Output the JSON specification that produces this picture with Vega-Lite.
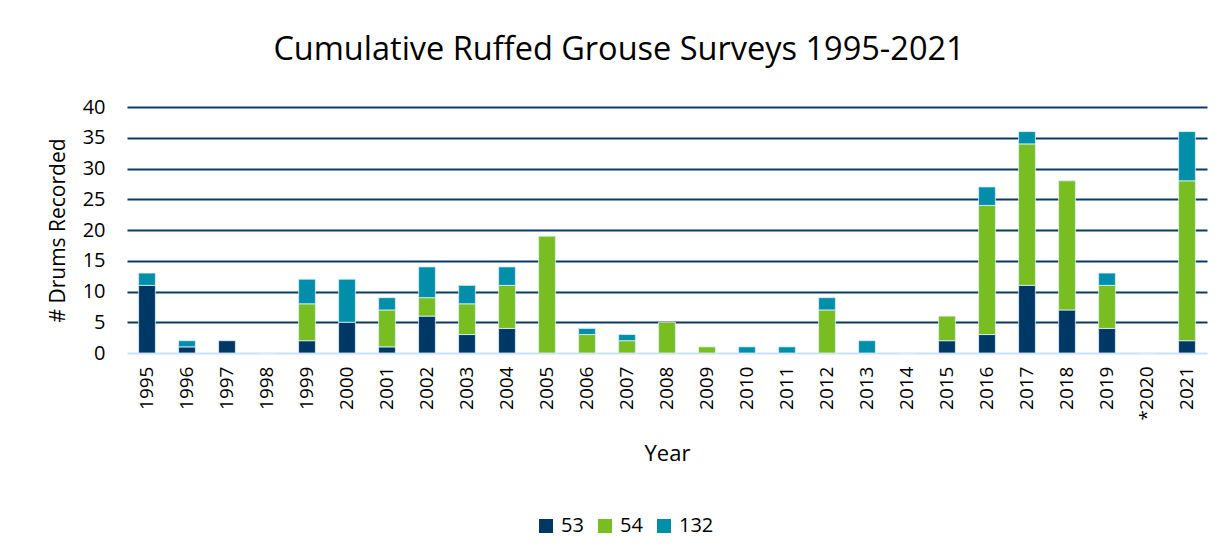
{
  "$schema": "https://vega.github.io/schema/vega-lite/v6.json",
  "autosize": {"type": "none"},
  "width": 1080,
  "height": 246,
  "padding": {"left": 127, "top": 107, "right": 15, "bottom": 206},
  "background": "#ffffff",
  "config": {
    "font": "Open Sans",
    "view": {"stroke": null}
  },
  "title": {
    "text": "Cumulative Ruffed Grouse Surveys 1995-2021",
    "font": "Open Sans",
    "fontSize": 32.5,
    "fontWeight": "normal",
    "color": "#000000",
    "anchor": "middle",
    "dx": -48,
    "offset": 31
  },
  "data": {
    "values": [
      {"year": "1995", "series": 53, "drums": 11}, {"year": "1995", "series": 132, "drums": 2},
      {"year": "1996", "series": 53, "drums": 1}, {"year": "1996", "series": 132, "drums": 1},
      {"year": "1997", "series": 53, "drums": 2},
      {"year": "1998", "series": 53, "drums": 0},
      {"year": "1999", "series": 53, "drums": 2}, {"year": "1999", "series": 54, "drums": 6}, {"year": "1999", "series": 132, "drums": 4},
      {"year": "2000", "series": 53, "drums": 5}, {"year": "2000", "series": 132, "drums": 7},
      {"year": "2001", "series": 53, "drums": 1}, {"year": "2001", "series": 54, "drums": 6}, {"year": "2001", "series": 132, "drums": 2},
      {"year": "2002", "series": 53, "drums": 6}, {"year": "2002", "series": 54, "drums": 3}, {"year": "2002", "series": 132, "drums": 5},
      {"year": "2003", "series": 53, "drums": 3}, {"year": "2003", "series": 54, "drums": 5}, {"year": "2003", "series": 132, "drums": 3},
      {"year": "2004", "series": 53, "drums": 4}, {"year": "2004", "series": 54, "drums": 7}, {"year": "2004", "series": 132, "drums": 3},
      {"year": "2005", "series": 54, "drums": 19},
      {"year": "2006", "series": 54, "drums": 3}, {"year": "2006", "series": 132, "drums": 1},
      {"year": "2007", "series": 54, "drums": 2}, {"year": "2007", "series": 132, "drums": 1},
      {"year": "2008", "series": 54, "drums": 5},
      {"year": "2009", "series": 54, "drums": 1},
      {"year": "2010", "series": 132, "drums": 1},
      {"year": "2011", "series": 132, "drums": 1},
      {"year": "2012", "series": 54, "drums": 7}, {"year": "2012", "series": 132, "drums": 2},
      {"year": "2013", "series": 132, "drums": 2},
      {"year": "2014", "series": 53, "drums": 0},
      {"year": "2015", "series": 53, "drums": 2}, {"year": "2015", "series": 54, "drums": 4},
      {"year": "2016", "series": 53, "drums": 3}, {"year": "2016", "series": 54, "drums": 21}, {"year": "2016", "series": 132, "drums": 3},
      {"year": "2017", "series": 53, "drums": 11}, {"year": "2017", "series": 54, "drums": 23}, {"year": "2017", "series": 132, "drums": 2},
      {"year": "2018", "series": 53, "drums": 7}, {"year": "2018", "series": 54, "drums": 21},
      {"year": "2019", "series": 53, "drums": 4}, {"year": "2019", "series": 54, "drums": 7}, {"year": "2019", "series": 132, "drums": 2},
      {"year": "*2020", "series": 53, "drums": 0},
      {"year": "2021", "series": 53, "drums": 2}, {"year": "2021", "series": 54, "drums": 26}, {"year": "2021", "series": 132, "drums": 8}
    ]
  },
  "mark": {"type": "bar", "stroke": "#dff0fa", "strokeWidth": 0.8},
  "encoding": {
    "x": {
      "field": "year",
      "type": "nominal",
      "sort": null,
      "title": "Year",
      "scale": {"paddingInner": 0.58, "paddingOuter": 0.29},
      "axis": {
        "labelAngle": -90,
        "labelFontSize": 19,
        "labelColor": "#000000",
        "labelPadding": 13,
        "ticks": false,
        "domain": false,
        "titleFontSize": 22,
        "titleFontWeight": "normal",
        "titleColor": "#000000",
        "titlePadding": 24
      }
    },
    "y": {
      "field": "drums",
      "type": "quantitative",
      "aggregate": "sum",
      "stack": "zero",
      "title": "# Drums Recorded",
      "scale": {"domain": [0, 40]},
      "axis": {
        "values": [0, 5, 10, 15, 20, 25, 30, 35, 40],
        "labelFontSize": 20,
        "labelColor": "#000000",
        "labelPadding": 22,
        "ticks": false,
        "domain": false,
        "gridColor": {"condition": {"test": "datum.value === 0", "value": "#c9e2f5"}, "value": "#0c3c63"},
        "gridWidth": 2,
        "gridOpacity": 1,
        "titleFontSize": 21,
        "titleFontWeight": "normal",
        "titleColor": "#000000",
        "titlePadding": 14
      }
    },
    "color": {
      "field": "series",
      "type": "nominal",
      "title": null,
      "scale": {"domain": [53, 54, 132], "range": ["#003865", "#78be21", "#008ea9"]},
      "legend": {
        "orient": "none",
        "legendX": 409,
        "legendY": 409,
        "padding": 0,
        "direction": "horizontal",
        "symbolType": "square",
        "symbolSize": 196,
        "symbolStrokeWidth": 0,
        "labelFontSize": 20,
        "labelColor": "#000000",
        "labelOffset": 5,
        "columnPadding": 11
      }
    },
    "order": {"field": "series", "type": "quantitative", "sort": "ascending"}
  }
}
